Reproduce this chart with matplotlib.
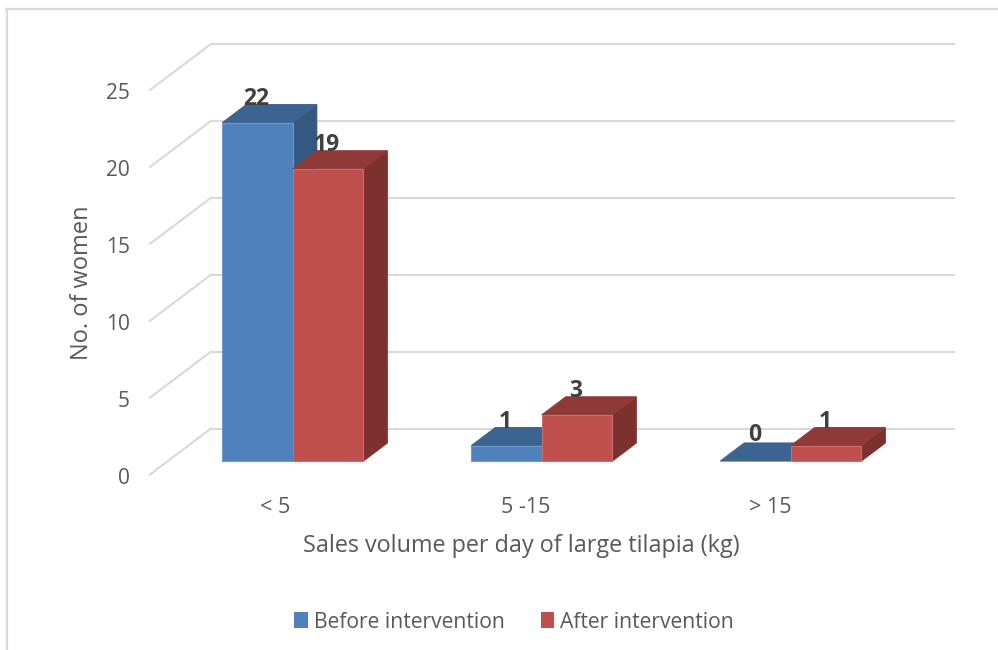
import matplotlib
matplotlib.use("Agg")
import matplotlib.pyplot as plt
from matplotlib.patches import Polygon, Patch
from matplotlib.lines import Line2D

categories = ["< 5", "5 -15", "> 15"]
before = [22, 1, 0]
after = [19, 3, 1]
series_names = ["Before intervention", "After intervention"]
y_ticks = [0, 5, 10, 15, 20, 25]

W, H = 998, 650
FONT = "Open Sans"
GRID = "#D9D9D9"
TXT = "#595959"
LBL = "#404040"
BLUE = dict(front="#4F81BD", top="#3D6390", side="#34587F", edge="#6F9AD0")
RED = dict(front="#C0504D", top="#8F3A38", side="#7D312F", edge="#CC6B68")

fig = plt.figure(figsize=(W / 100, H / 100), dpi=100)
L, R, T, B = 211, 955, 44, 428.5
ax = fig.add_axes([L / W, 1 - B / H, (R - L) / W, (B - T) / H])
XMIN, XMAX = -0.002, 2.986
ax.set_xlim(XMIN, XMAX)
ax.set_ylim(0, 25)
ax.axis("off")

PX_X = (R - L) / (XMAX - XMIN)
PX_Y = (B - T) / 25
WALL_DX, WALL_DY = -61.0, 46.0  # px from back wall to front of floor


def proj(x, v, d):
    """category units, value, depth fraction (0 back, 1 front) -> axes data."""
    return x + d * WALL_DX / PX_X, v - d * WALL_DY / PX_Y


# chart frame
fig.add_artist(Line2D([6.8 / W, 6.8 / W], [0, 1 - 8.5 / H], color=GRID, lw=1.6))
fig.add_artist(Line2D([6 / W, 1], [1 - 8.5 / H, 1 - 8.5 / H], color=GRID, lw=1.6))

# walls
for v in y_ticks:
    ax.plot([XMIN, XMAX], [v, v], color=GRID, lw=1.5, clip_on=False, zorder=1,
            solid_capstyle="butt")
    xf, yf = proj(XMIN, v, 1)
    ax.plot([XMIN, xf], [v, yf], color=GRID, lw=1.5, clip_on=False, zorder=1)
    ax.annotate(str(v), (xf, yf), xytext=(-20, -1), textcoords="offset pixels",
                ha="right", va="center_baseline", fontsize=15, color=TXT, family=FONT,
                annotation_clip=False)

D_FRONT, D_BACK = 0.707, 0.315
BAR_W = 70.5 / PX_X


def draw_bar(x0, v, col, z):
    x1 = x0 + BAR_W
    P = lambda x, val, d: proj(x, val, d)
    kw = dict(clip_on=False, zorder=z, lw=0.8, joinstyle="miter")
    ax.add_patch(Polygon([P(x1, 0, D_FRONT), P(x1, 0, D_BACK), P(x1, v, D_BACK), P(x1, v, D_FRONT)],
                         facecolor=col["side"], edgecolor=col["side"], **kw))
    ax.add_patch(Polygon([P(x0, v, D_FRONT), P(x1, v, D_FRONT), P(x1, v, D_BACK), P(x0, v, D_BACK)],
                         facecolor=col["top"], edgecolor=col["top"], **kw))
    if v > 0:
        ax.add_patch(Polygon([P(x0, 0, D_FRONT), P(x1, 0, D_FRONT), P(x1, v, D_FRONT), P(x0, v, D_FRONT)],
                             facecolor=col["front"], edgecolor=col["edge"], **kw))
    _, yl = P(x0 + BAR_W / 2, v, D_BACK)
    xf, _ = P(x0 + BAR_W / 2, v, D_FRONT)
    ax.annotate(str(v), (xf, yl), xytext=(-1, 0 if v else 2), textcoords="offset pixels",
                ha="center", va="baseline", fontsize=16.5, fontweight="bold",
                color=LBL, family=FONT, zorder=100, annotation_clip=False)


label_nudge = [-18, -16.5, -21]
for i, cat in enumerate(categories):
    c = i + 0.5
    draw_bar(c - BAR_W, before[i], BLUE, 10 + i * 2)
    draw_bar(c, after[i], RED, 11 + i * 2)
    xc, yc = proj(c, 0, D_FRONT)
    ax.annotate(cat, (xc, yc), xytext=(label_nudge[i], -44), textcoords="offset pixels",
                ha="center", va="center_baseline", fontsize=15.5, color=TXT, family=FONT,
                annotation_clip=False)

fig.text(521 / W, 1 - 546 / H, "Sales volume per day of large tilapia (kg)", ha="center",
         va="center", fontsize=16.8, color=TXT, family=FONT)
fig.text(82.5 / W, 1 - 283 / H, "No. of women", rotation=90, ha="center", va="center",
         fontsize=17, color=TXT, family=FONT)

handles = [Patch(facecolor=BLUE["front"], label=series_names[0]),
           Patch(facecolor=RED["front"], label=series_names[1])]
fig.legend(handles=handles, loc="center", bbox_to_anchor=(514 / W, 1 - 622 / H), ncol=2,
           frameon=False, handlelength=0.65, handleheight=0.8, handletextpad=0.28,
           columnspacing=1.7, prop=dict(family=FONT, size=15.2), labelcolor=TXT,
           borderpad=0, borderaxespad=0)

fig.savefig("out.png", dpi=100)
